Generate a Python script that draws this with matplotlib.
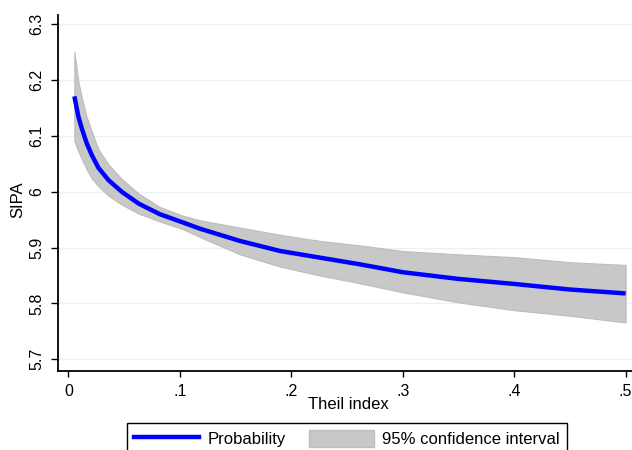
import matplotlib
matplotlib.use("Agg")
import matplotlib.pyplot as plt
from matplotlib.patches import Patch
from matplotlib.lines import Line2D

plt.rcParams['font.family'] = ['Liberation Sans', 'DejaVu Sans']

# values
theil = [0.0054, 0.009, 0.012, 0.0165, 0.021, 0.027, 0.036, 0.048, 0.063, 0.082,
         0.103, 0.118, 0.154, 0.19, 0.226, 0.262, 0.3, 0.35, 0.4, 0.45, 0.5]
sipa = [6.171, 6.135, 6.114, 6.087, 6.066, 6.043, 6.021, 6.000, 5.979, 5.960,
        5.945, 5.934, 5.912, 5.894, 5.882, 5.870, 5.856, 5.844, 5.835, 5.825, 5.818]
ci_upper = [6.251, 6.198, 6.169, 6.134, 6.108, 6.076, 6.049, 6.023, 5.997, 5.973,
            5.957, 5.949, 5.936, 5.923, 5.912, 5.904, 5.894, 5.888, 5.883, 5.874, 5.869]
ci_lower = [6.091, 6.072, 6.059, 6.040, 6.024, 6.010, 5.993, 5.977, 5.961, 5.947,
            5.933, 5.919, 5.888, 5.866, 5.850, 5.836, 5.820, 5.802, 5.788, 5.778, 5.766]

x_ticks = [0, 0.1, 0.2, 0.3, 0.4, 0.5]
x_labels = ['0', '.1', '.2', '.3', '.4', '.5']
y_ticks = [5.7, 5.8, 5.9, 6.0, 6.1, 6.2, 6.3]
y_labels = ['5.7', '5.8', '5.9', '6', '6.1', '6.2', '6.3']

W, H = 632, 450
fig = plt.figure(figsize=(W / 100, H / 100), dpi=100)
ax = fig.add_axes([58.3 / W, (H - 370.7) / H, 1 - 58.3 / W, (370.7 - 15) / H])

ax.fill_between(theil, ci_lower, ci_upper, facecolor='#C8C8C8',
                edgecolor='#BDBDBD', linewidth=0.8, zorder=2)
ax.plot(theil, sipa, color='#0000FF', linewidth=3.2, solid_capstyle='butt', zorder=3)

ax.set_xlim(-0.009, 0.5057)
ax.set_ylim(5.6796, 6.3167)

ax.set_xticks(x_ticks)
ax.set_xticklabels(x_labels)
ax.set_yticks(y_ticks)
ax.set_yticklabels(y_labels, rotation=90, va='center')

ax.grid(axis='y', color='#EAF2F3', linewidth=1.0, zorder=0)
ax.set_axisbelow(True)

for side in ['top', 'right']:
    ax.spines[side].set_visible(False)
for side in ['left', 'bottom']:
    ax.spines[side].set_linewidth(1.3)
    ax.spines[side].set_color('black')

ax.tick_params(axis='y', length=5, width=1, pad=5, labelsize=11.5)
ax.tick_params(axis='x', length=4.3, width=1, pad=5, labelsize=11.5)

ax.set_xlabel('Theil index', fontsize=12)
ax.xaxis.set_label_coords(0.505, -0.094)
ax.xaxis.label.set_va('center')
ax.set_ylabel('SIPA', fontsize=12)
ax.yaxis.set_label_coords(-0.07, 0.48)
ax.yaxis.label.set_va('center')

handles = [Line2D([], [], color='#0000FF', linewidth=3.2),
           Patch(facecolor='#C8C8C8', edgecolor='#BDBDBD')]
leg = fig.legend(handles, ['Probability', '95% confidence interval'],
                 loc='upper center', bbox_to_anchor=(347 / W, 1 - 422.7 / H),
                 ncol=2, fontsize=12, frameon=True, fancybox=False,
                 edgecolor='black', framealpha=1, handlelength=3.9,
                 handleheight=1.2, handletextpad=0.5, columnspacing=1.4,
                 borderpad=0.45, borderaxespad=0)
leg.get_frame().set_linewidth(1.0)

fig.savefig('out.png', dpi=100)
